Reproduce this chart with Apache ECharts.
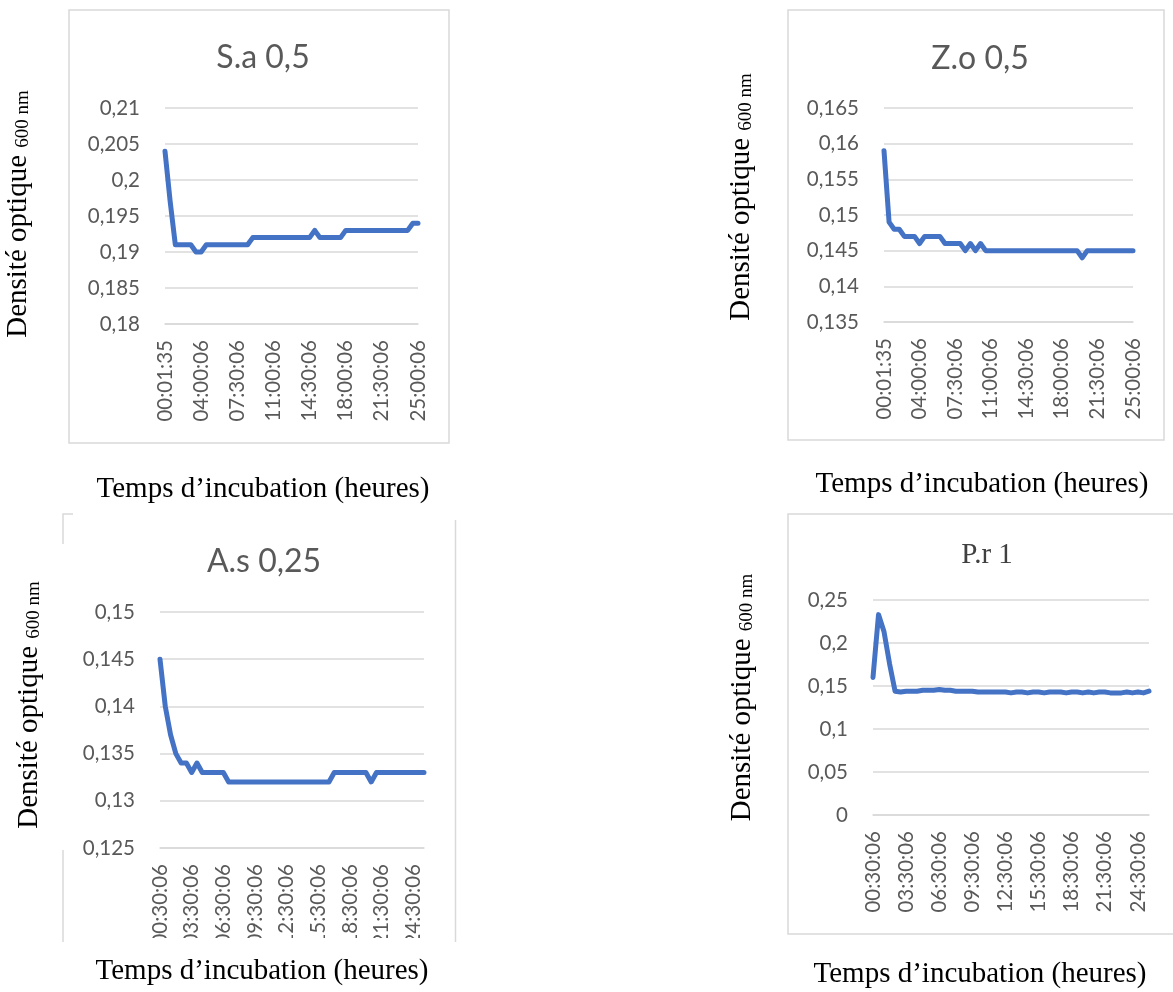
<!DOCTYPE html>
<html>
<head>
<meta charset="utf-8">
<script src="https://cdn.jsdelivr.net/npm/echarts@6/dist/echarts.min.js"></script>
<style>
  html, body { margin: 0; padding: 0; background: #fff; }
  #chart { width: 1173px; height: 992px; }
</style>
</head>
<body>
<div id="chart"></div>
<script>
// time categories (first pair of charts starts at 00:01:35, second pair at 00:30:06)
const timesA = [
  "00:01:35",
  "01:00:06", "01:30:06", "02:00:06", "02:30:06", "03:00:06", "03:30:06", "04:00:06", "04:30:06", "05:00:06", "05:30:06",
  "06:00:06", "06:30:06", "07:00:06", "07:30:06", "08:00:06", "08:30:06", "09:00:06", "09:30:06", "10:00:06", "10:30:06",
  "11:00:06", "11:30:06", "12:00:06", "12:30:06", "13:00:06", "13:30:06", "14:00:06", "14:30:06", "15:00:06", "15:30:06",
  "16:00:06", "16:30:06", "17:00:06", "17:30:06", "18:00:06", "18:30:06", "19:00:06", "19:30:06", "20:00:06", "20:30:06",
  "21:00:06", "21:30:06", "22:00:06", "22:30:06", "23:00:06", "23:30:06", "24:00:06", "24:30:06", "25:00:06"
];
const timesB = [
  "00:30:06", "01:00:06", "01:30:06", "02:00:06", "02:30:06", "03:00:06", "03:30:06", "04:00:06", "04:30:06", "05:00:06",
  "05:30:06", "06:00:06", "06:30:06", "07:00:06", "07:30:06", "08:00:06", "08:30:06", "09:00:06", "09:30:06", "10:00:06",
  "10:30:06", "11:00:06", "11:30:06", "12:00:06", "12:30:06", "13:00:06", "13:30:06", "14:00:06", "14:30:06", "15:00:06",
  "15:30:06", "16:00:06", "16:30:06", "17:00:06", "17:30:06", "18:00:06", "18:30:06", "19:00:06", "19:30:06", "20:00:06",
  "20:30:06", "21:00:06", "21:30:06", "22:00:06", "22:30:06", "23:00:06", "23:30:06", "24:00:06", "24:30:06", "25:00:06",
  "25:30:06"
];

// optical density readings
const saValues = [
  0.204, 0.197, 0.191, 0.191, 0.191, 0.191, 0.19, 0.19, 0.191, 0.191,
  0.191, 0.191, 0.191, 0.191, 0.191, 0.191, 0.191, 0.192, 0.192, 0.192,
  0.192, 0.192, 0.192, 0.192, 0.192, 0.192, 0.192, 0.192, 0.192, 0.193,
  0.192, 0.192, 0.192, 0.192, 0.192, 0.193, 0.193, 0.193, 0.193, 0.193,
  0.193, 0.193, 0.193, 0.193, 0.193, 0.193, 0.193, 0.193, 0.194, 0.194
];
const zoValues = [
  0.159, 0.149, 0.148, 0.148, 0.147, 0.147, 0.147, 0.146, 0.147, 0.147,
  0.147, 0.147, 0.146, 0.146, 0.146, 0.146, 0.145, 0.146, 0.145, 0.146,
  0.145, 0.145, 0.145, 0.145, 0.145, 0.145, 0.145, 0.145, 0.145, 0.145,
  0.145, 0.145, 0.145, 0.145, 0.145, 0.145, 0.145, 0.145, 0.145, 0.144,
  0.145, 0.145, 0.145, 0.145, 0.145, 0.145, 0.145, 0.145, 0.145, 0.145
];
const asValues = [
  0.145, 0.14, 0.137, 0.135, 0.134, 0.134, 0.133, 0.134, 0.133, 0.133,
  0.133, 0.133, 0.133, 0.132, 0.132, 0.132, 0.132, 0.132, 0.132, 0.132,
  0.132, 0.132, 0.132, 0.132, 0.132, 0.132, 0.132, 0.132, 0.132, 0.132,
  0.132, 0.132, 0.132, 0.133, 0.133, 0.133, 0.133, 0.133, 0.133, 0.133,
  0.132, 0.133, 0.133, 0.133, 0.133, 0.133, 0.133, 0.133, 0.133, 0.133,
  0.133
];
const prValues = [
  0.16, 0.233, 0.213, 0.176, 0.144, 0.143, 0.144, 0.144, 0.144, 0.145,
  0.145, 0.145, 0.146, 0.145, 0.145, 0.144, 0.144, 0.144, 0.144, 0.143,
  0.143, 0.143, 0.143, 0.143, 0.143, 0.142, 0.143, 0.143, 0.142, 0.143,
  0.143, 0.142, 0.143, 0.143, 0.143, 0.142, 0.143, 0.143, 0.142, 0.143,
  0.142, 0.143, 0.143, 0.142, 0.142, 0.142, 0.143, 0.142, 0.143, 0.142,
  0.144
];

const titles = ["S.a 0,5", "Z.o 0,5", "A.s 0,25", "P.r 1"];
// [min, max, step] of each value axis
const yRanges = [
  [0.18, 0.21, 0.005],
  [0.135, 0.165, 0.005],
  [0.125, 0.15, 0.005],
  [0, 0.25, 0.05]
];

const BLUE = "#4472C4";
const GRID_GREY = "#D9D9D9";
const LABEL_GREY = "#595959";
const SANS = "Lato";
const SERIF = "'Liberation Serif', 'Times New Roman', serif";

const yName = "{a|Densité optique }{b|600 nm}";
const xName = "Temps d’incubation (heures)";

// layout per panel
const panels = [
  { grid: { left: 165, top: 108, width: 253, height: 216 }, cats: timesA, data: saValues, every: 6, yGap: 132, yPad: 4, xGap: 151, xPad: 57, titleX: 258, titleY: 37 },
  { grid: { left: 884, top: 108, width: 249, height: 214 }, cats: timesA, data: zoValues, every: 6, yGap: 128, yPad: 36, xGap: 148, xPad: 53, titleX: 975, titleY: 38 },
  { grid: { left: 160, top: 612, width: 264, height: 236 }, cats: timesB, data: asValues, every: 5, yGap: 116, yPad: 50, xGap: 109, xPad: 60, titleX: 259, titleY: 541 },
  { grid: { left: 873, top: 600, width: 276, height: 215 }, cats: timesB, data: prValues, every: 5, yGap: 116, yPad: 20, xGap: 145, xPad: 62, titleX: 982, titleY: 536 }
];

const fmt = (v) => String(parseFloat(v.toFixed(3))).replace(".", ",");

const chart = echarts.init(document.getElementById("chart"));

const option = {
  animation: false,
  backgroundColor: "#fff",
  title: panels.map((p, i) => ({
    text: titles[i],
    left: p.titleX,
    top: p.titleY,
    textAlign: "center",
    textStyle: i === 3
      ? { fontFamily: SERIF, fontSize: 29, fontWeight: "normal", color: "#404040" }
      : { fontFamily: SANS, fontSize: 32, fontWeight: "normal", color: LABEL_GREY }
  })),
  grid: panels.map((p) => p.grid),
  xAxis: panels.map((p, i) => ({
    type: "category",
    gridIndex: i,
    data: p.cats,
    boundaryGap: false,
    axisTick: { show: false },
    axisLine: { lineStyle: { color: GRID_GREY, width: 1.5 } },
    axisLabel: {
      interval: p.every,
      rotate: 90,
      margin: 16,
      fontFamily: SANS,
      fontSize: 20.5,
      color: LABEL_GREY
    },
    name: xName,
    nameLocation: "middle",
    nameGap: p.xGap,
    nameTextStyle: {
      fontFamily: SERIF,
      fontSize: 29,
      color: "#000",
      padding: [0, p.xPad, 0, 0]
    }
  })),
  yAxis: panels.map((p, i) => ({
    type: "value",
    gridIndex: i,
    min: yRanges[i][0],
    max: yRanges[i][1],
    interval: yRanges[i][2],
    axisLine: { show: false },
    axisTick: { show: false },
    splitLine: { lineStyle: { color: GRID_GREY, width: 1.5 } },
    axisLabel: {
      margin: 25,
      fontFamily: SANS,
      fontSize: 20.5,
      color: LABEL_GREY,
      formatter: fmt
    },
    name: yName,
    nameLocation: "middle",
    nameGap: p.yGap,
    nameTextStyle: {
      color: "#000",
      padding: [0, 0, 0, p.yPad],
      rich: {
        a: { fontFamily: SERIF, fontSize: 29, color: "#000", verticalAlign: "bottom" },
        b: { fontFamily: SERIF, fontSize: 19, color: "#000", verticalAlign: "bottom" }
      }
    }
  })),
  series: panels.map((p, i) => ({
    type: "line",
    xAxisIndex: i,
    yAxisIndex: i,
    data: p.data,
    symbol: "none",
    lineStyle: { color: BLUE, width: 5, cap: "round", join: "round" }
  })),
  graphic: [
    // chart frames
    { type: "rect", shape: { x: 69, y: 10, width: 380, height: 433 }, style: { fill: null, stroke: GRID_GREY, lineWidth: 1.5 }, z: -10 },
    { type: "rect", shape: { x: 788, y: 10, width: 376, height: 430 }, style: { fill: null, stroke: GRID_GREY, lineWidth: 1.5 }, z: -10 },
    { type: "rect", shape: { x: 788, y: 514, width: 420, height: 420 }, style: { fill: null, stroke: GRID_GREY, lineWidth: 1.5 }, z: -10 },
    // partly hidden frame of the A.s panel
    { type: "polyline", shape: { points: [[73, 514], [63, 514], [63, 544]] }, style: { fill: null, stroke: GRID_GREY, lineWidth: 1.5 }, z: -10 },
    { type: "line", shape: { x1: 63, y1: 850, x2: 63, y2: 942 }, style: { stroke: GRID_GREY, lineWidth: 1.5 }, z: -10 },
    { type: "line", shape: { x1: 455.5, y1: 520, x2: 455.5, y2: 942 }, style: { stroke: GRID_GREY, lineWidth: 1.5 }, z: -10 },
    // crop of the A.s tick labels
    { type: "rect", shape: { x: 120, y: 938, width: 330, height: 16 }, style: { fill: "#fff" }, z: 100 }
  ]
};

chart.setOption(option);
</script>
</body>
</html>
